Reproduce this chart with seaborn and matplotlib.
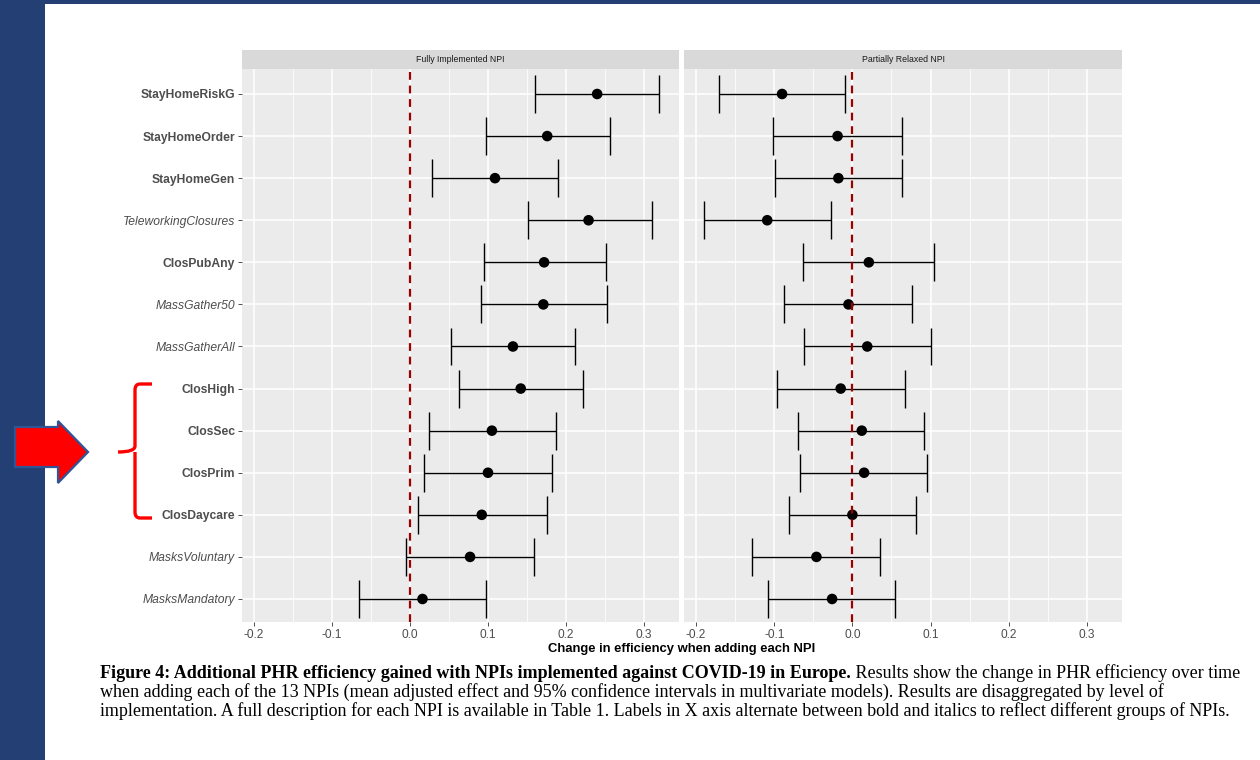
import numpy as np
import pandas as pd
import matplotlib
matplotlib.use("Agg")
import matplotlib.pyplot as plt
import seaborn as sns
from matplotlib.patches import Rectangle, Polygon, PathPatch
from matplotlib.path import Path

# ---------------- data ----------------
npis = ["StayHomeRiskG", "StayHomeOrder", "StayHomeGen", "TeleworkingClosures",
        "ClosPubAny", "MassGather50", "MassGatherAll", "ClosHigh", "ClosSec",
        "ClosPrim", "ClosDaycare", "MasksVoluntary", "MasksMandatory"]
is_bold = [True, True, True, False, True, False, False, True, True, True, True, False, False]

full_est = [0.240, 0.176, 0.109, 0.229, 0.172, 0.171, 0.132, 0.142, 0.105, 0.100, 0.092, 0.077, 0.016]
full_lo = [0.160, 0.097, 0.028, 0.151, 0.095, 0.091, 0.053, 0.063, 0.024, 0.018, 0.010, -0.005, -0.065]
full_hi = [0.319, 0.256, 0.190, 0.310, 0.251, 0.253, 0.212, 0.222, 0.187, 0.182, 0.176, 0.159, 0.098]

part_est = [-0.090, -0.019, -0.018, -0.109, 0.021, -0.005, 0.019, -0.015, 0.012, 0.015, 0.000, -0.046, -0.026]
part_lo = [-0.171, -0.101, -0.099, -0.190, -0.063, -0.087, -0.062, -0.096, -0.069, -0.067, -0.081, -0.128, -0.108]
part_hi = [-0.009, 0.063, 0.064, -0.028, 0.104, 0.076, 0.101, 0.067, 0.092, 0.096, 0.082, 0.035, 0.055]

panels = ["Fully Implemented NPI", "Partially Relaxed NPI"]
x_ticks = [-0.2, -0.1, 0.0, 0.1, 0.2, 0.3]
x_tick_labels = ["-0.2", "-0.1", "0.0", "0.1", "0.2", "0.3"]
x_minor = [-0.15, -0.05, 0.05, 0.15, 0.25]
x_label = "Change in efficiency when adding each NPI"

cap_bold = "Figure 4: Additional PHR efficiency gained with NPIs implemented against COVID-19 in Europe."
cap_l1 = " Results show the change in PHR efficiency over time"
cap_l2 = ("when adding each of the 13 NPIs (mean adjusted effect and 95% confidence intervals "
          "in multivariate models). Results are disaggregated by level of")
cap_l3 = ("implementation. A full description for each NPI is available in Table 1. Labels in X axis "
          "alternate between bold and italics to reflect different groups of NPIs.")

df = pd.concat([
    pd.DataFrame({"npi": npis, "pos": np.arange(len(npis)), "est": full_est,
                  "lo": full_lo, "hi": full_hi, "panel": panels[0]}),
    pd.DataFrame({"npi": npis, "pos": np.arange(len(npis)), "est": part_est,
                  "lo": part_lo, "hi": part_hi, "panel": panels[1]}),
])

# ---------------- style ----------------
sns.set_theme(style="darkgrid", rc={
    "axes.facecolor": "#EBEBEB",
    "figure.facecolor": "white",
    "grid.color": "white",
    "axes.edgecolor": "none",
})
plt.rcParams["font.family"] = ["Liberation Sans", "DejaVu Sans"]

W, H = 1260, 760
fig = plt.figure(figsize=(W / 100, H / 100), dpi=100)

# slide decorations
blue = "#243F73"
fig.patches.append(Rectangle((0, 0), 45 / W, 1, transform=fig.transFigure,
                             facecolor=blue, edgecolor="none", zorder=0))
fig.patches.append(Rectangle((0, 1 - 4 / H), 1, 4 / H, transform=fig.transFigure,
                             facecolor=blue, edgecolor="none", zorder=0))

def P(x, y):
    return (x / W, 1 - y / H)

arrow_pts = [P(15, 427), P(58, 427), P(58, 421), P(88, 452), P(58, 483), P(58, 467), P(15, 467)]
fig.patches.append(Polygon(arrow_pts, closed=True, transform=fig.transFigure,
                           facecolor="#FF0000", edgecolor="#2F5597", lw=1.6, zorder=2))

codes = [Path.MOVETO, Path.LINETO, Path.CURVE3, Path.CURVE3, Path.LINETO, Path.CURVE3,
         Path.CURVE3, Path.MOVETO, Path.CURVE3, Path.LINETO, Path.CURVE3, Path.CURVE3, Path.LINETO]
verts = [P(152, 384), P(140, 384), P(135, 384), P(135, 390), P(135, 446), P(135, 452),
         P(118, 452), P(135, 452), P(135, 458), P(135, 512), P(135, 518), P(140, 518), P(152, 518)]
fig.patches.append(PathPatch(Path(verts, codes), transform=fig.transFigure, facecolor="none",
                             edgecolor="#FF0000", lw=2.4, capstyle="butt", joinstyle="round", zorder=2))

# ---------------- panels ----------------
top, bot = 69, 622
lefts = [(242, 679), (684, 1122)]
axes = []
for (l, r), pname in zip(lefts, panels):
    ax = fig.add_axes([l / W, 1 - bot / H, (r - l) / W, (bot - top) / H])
    axes.append(ax)
    sub = df[df["panel"] == pname]
    ax.hlines(sub["pos"], sub["lo"], sub["hi"], color="black", lw=1.0, zorder=3)
    ax.vlines(sub["lo"], sub["pos"] - 0.45, sub["pos"] + 0.45, color="black", lw=1.0, zorder=3)
    ax.vlines(sub["hi"], sub["pos"] - 0.45, sub["pos"] + 0.45, color="black", lw=1.0, zorder=3)
    sns.scatterplot(data=sub, x="est", y="pos", ax=ax, color="black", s=58,
                    edgecolor="none", linewidth=0, zorder=4, legend=False)
    ax.axvline(0, color="#9B0000", lw=1.6, dashes=(3.5, 2.6), zorder=5)

    ax.set_xlim(-0.2155, 0.345)
    ax.set_ylim(12.547, -0.594)
    ax.set_xticks(x_ticks)
    ax.set_xticklabels(x_tick_labels)
    ax.set_xticks(x_minor, minor=True)
    ax.grid(True, which="major", color="white", lw=1.1)
    ax.grid(True, which="minor", axis="x", color="white", lw=0.55)
    ax.set_axisbelow(True)
    for s in ax.spines.values():
        s.set_visible(False)
    ax.tick_params(axis="x", which="major", bottom=True, length=3, width=0.6, color="#333333",
                   labelsize=8.6, labelcolor="#4D4D4D", pad=2)
    ax.tick_params(axis="x", which="minor", bottom=False)
    ax.set_xlabel("")
    ax.set_ylabel("")
    ax.set_yticks(range(len(npis)))

    # strip
    sh = 19 / (bot - top)
    ax.add_patch(Rectangle((0, 1), 1, sh, transform=ax.transAxes, facecolor="#D9D9D9",
                           edgecolor="none", clip_on=False, zorder=1))
    ax.text(0.5, 1 + sh / 2, pname, transform=ax.transAxes, ha="center", va="center",
            fontsize=6.3, color="#1A1A1A")

ax1, ax2 = axes
ax1.set_yticklabels(npis)
ax1.tick_params(axis="y", left=True, length=3, width=0.6, color="#333333",
                labelsize=8.7, labelcolor="#4D4D4D", pad=2)
for lab, b in zip(ax1.get_yticklabels(), is_bold):
    if b:
        lab.set_fontweight("bold")
    else:
        lab.set_fontstyle("italic")
ax2.set_yticklabels([])
ax2.tick_params(axis="y", left=False, length=0)

fig.text(682 / W, 1 - 649 / H, x_label, ha="center", va="center",
         fontsize=9.4, fontweight="bold", color="black")

# ---------------- caption ----------------
serif = ["Liberation Serif", "DejaVu Serif"]
cfs = 13.0
t1 = fig.text(100 / W, 1 - 673 / H, cap_bold, ha="left", va="center", fontsize=cfs,
              fontweight="bold", family=serif, color="black")
fig.canvas.draw()
bb = t1.get_window_extent(renderer=fig.canvas.get_renderer())
fig.text(bb.x1 / W, 1 - 673 / H, cap_l1, ha="left", va="center", fontsize=cfs,
         family=serif, color="black")
fig.text(100 / W, 1 - 692 / H, cap_l2, ha="left", va="center", fontsize=cfs,
         family=serif, color="black")
fig.text(100 / W, 1 - 711 / H, cap_l3, ha="left", va="center", fontsize=cfs,
         family=serif, color="black")

fig.savefig("out.png", dpi=100)
